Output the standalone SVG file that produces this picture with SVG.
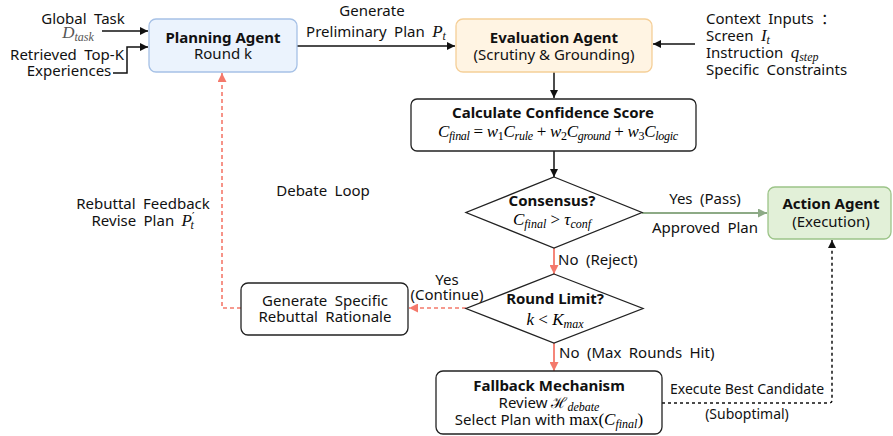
<svg xmlns="http://www.w3.org/2000/svg" width="893" height="436" viewBox="0 0 893 436">
  <defs>
    <style>
      .t { font-family: "Noto Sans", "Open Sans", sans-serif; font-size: 15px; fill: #111; }
      .ws { word-spacing: 3.5px; }
      .b { font-weight: bold; }
      .s14 { font-size: 14px; }
      .m { font-family: "Liberation Serif", "DejaVu Serif", serif; font-style: italic; font-size: 17px; }
      .mu { font-family: "Liberation Serif", "DejaVu Serif", serif; font-style: normal; font-size: 17px; }
      .ms { font-family: "Liberation Serif", "DejaVu Serif", serif; font-style: italic; font-size: 12px; }
      .msu { font-family: "Liberation Serif", "DejaVu Serif", serif; font-style: normal; font-size: 12px; }
      .box { fill: #ffffff; stroke: #222; stroke-width: 1.3; }
      .line { fill: none; stroke: #111; stroke-width: 1.5; }
      .red { fill: none; stroke: #f4796b; stroke-width: 1.8; }
      .reddash { fill: none; stroke: #f4796b; stroke-width: 1.6; stroke-dasharray: 4 3; }
      .dot { fill: none; stroke: #111; stroke-width: 1.5; stroke-dasharray: 3 3; }
      .green { fill: none; stroke: #8daa86; stroke-width: 1.8; }
    </style>
    <marker id="ah" viewBox="0 0 10 10" refX="10" refY="5" markerWidth="9" markerHeight="8" markerUnits="userSpaceOnUse" orient="auto">
      <path d="M0,0 L10,5 L0,10 z" fill="#111"/>
    </marker>
    <marker id="ahr" viewBox="0 0 10 10" refX="10" refY="5" markerWidth="9" markerHeight="9" markerUnits="userSpaceOnUse" orient="auto">
      <path d="M0,0 L10,5 L0,10 z" fill="#f4796b"/>
    </marker>
    <marker id="ahg" viewBox="0 0 10 10" refX="10" refY="5" markerWidth="9" markerHeight="9" markerUnits="userSpaceOnUse" orient="auto">
      <path d="M0,0 L10,5 L0,10 z" fill="#8daa86"/>
    </marker>
  </defs>

  <!-- connectors -->
  <g id="connectors">
    <path class="line" d="M102,31 H148" marker-end="url(#ah)"/>
    <path class="line" d="M113,73 H127 V47 H148" marker-end="url(#ah)"/>
    <path class="line" d="M297,46 H455" marker-end="url(#ah)"/>
    <path class="line" d="M695,44 H653" marker-end="url(#ah)"/>
    <path class="line" d="M554,72 V98" marker-end="url(#ah)"/>
    <path class="line" d="M554,151 V177" marker-end="url(#ah)"/>
    <path class="green" d="M642,213 H767" marker-end="url(#ahg)"/>
    <path class="red" d="M554,248 V274" marker-end="url(#ahr)"/>
    <path class="red" d="M554,343 V371" marker-end="url(#ahr)"/>
    <path class="reddash" d="M466,308 H409" marker-end="url(#ahr)"/>
    <path class="reddash" d="M241,308 H222 V73" marker-end="url(#ahr)"/>
    <path class="dot" d="M662,403 H829 Q832,403 832,400 V240" marker-end="url(#ah)"/>
  </g>

  <!-- connector labels -->
  <g id="labels">
    <text class="t ws" x="83" y="24" text-anchor="middle">Global Task</text>
    <text x="78" y="38" text-anchor="middle" fill="#555"><tspan class="m" fill="#555">D</tspan><tspan class="ms" fill="#555" dy="3">task</tspan></text>
    <text class="t ws" x="67" y="60" text-anchor="middle">Retrieved Top-K</text>
    <text class="t ws" x="69" y="76" text-anchor="middle">Experiences</text>
    <text class="t ws" x="372" y="16" text-anchor="middle">Generate</text>
    <text class="t ws" x="376" y="37" text-anchor="middle">Preliminary Plan <tspan class="m">P</tspan><tspan class="ms" dy="3">t</tspan></text>
    <text class="t ws" x="706" y="24">Context Inputs <tspan font-family="'Noto Sans CJK SC', sans-serif">：</tspan></text>
    <text class="t ws" x="706" y="41">Screen <tspan class="m">I</tspan><tspan class="ms" dy="3">t</tspan></text>
    <text class="t ws" x="706" y="58">Instruction <tspan class="m">q</tspan><tspan class="ms" dy="3">step</tspan></text>
    <text class="t ws" x="706" y="75">Specific Constraints</text>
    <text class="t ws" x="705" y="204" text-anchor="middle">Yes (Pass)</text>
    <text class="t ws" x="705" y="233" text-anchor="middle">Approved Plan</text>
    <text class="t ws" x="558" y="265">No (Reject)</text>
    <text class="t ws" x="447" y="285" text-anchor="middle">Yes</text>
    <text class="t ws" x="447" y="300" text-anchor="middle">(Continue)</text>
    <text class="t ws" x="559" y="358">No (Max Rounds Hit)</text>
    <text class="t ws" x="143" y="209" text-anchor="middle">Rebuttal Feedback</text>
    <text class="t ws" x="143" y="226" text-anchor="middle">Revise Plan <tspan class="m">P</tspan><tspan font-family="'DejaVu Serif', serif" font-size="11px" dy="-6">′</tspan><tspan class="ms" dx="-4" dy="9">t</tspan></text>
    <text class="t ws" x="323" y="196" text-anchor="middle">Debate Loop</text>
    <text class="t s14" x="670" y="394">Execute Best Candidate</text>
    <text class="t s14" x="747" y="419" text-anchor="middle">(Suboptimal)</text>
  </g>

  <!-- nodes -->
  <g id="planning-agent">
    <rect x="149" y="19" width="148" height="53" rx="7" fill="#ebf3fd" stroke="#a6c1e6" stroke-width="1.3"/>
    <text class="t b" x="223" y="43" text-anchor="middle">Planning Agent</text>
    <text class="t" x="223" y="59" text-anchor="middle">Round k</text>
  </g>

  <g id="evaluation-agent">
    <rect x="456" y="19" width="196" height="53" rx="7" fill="#fff4e3" stroke="#f5cf98" stroke-width="1.3"/>
    <text class="t b" x="554" y="43" text-anchor="middle">Evaluation Agent</text>
    <text class="t" x="554" y="60" text-anchor="middle">(Scrutiny &amp; Grounding)</text>
  </g>

  <g id="confidence-score">
    <rect class="box" x="411" y="99" width="285" height="52" rx="6"/>
    <text class="t b" x="553" y="118" text-anchor="middle">Calculate Confidence Score</text>
    <text x="558" y="137" text-anchor="middle" textLength="240" lengthAdjust="spacing"><tspan class="m">C</tspan><tspan class="ms" dy="3">final</tspan><tspan class="mu" dy="-3"> = </tspan><tspan class="m">w</tspan><tspan class="msu" dy="3">1</tspan><tspan class="m" dy="-3">C</tspan><tspan class="ms" dy="3">rule</tspan><tspan class="mu" dy="-3"> + </tspan><tspan class="m">w</tspan><tspan class="msu" dy="3">2</tspan><tspan class="m" dy="-3">C</tspan><tspan class="ms" dy="3">ground</tspan><tspan class="mu" dy="-3"> + </tspan><tspan class="m">w</tspan><tspan class="msu" dy="3">3</tspan><tspan class="m" dy="-3">C</tspan><tspan class="ms" dy="3">logic</tspan></text>
  </g>

  <g id="consensus">
    <path class="box" d="M554,177 L642,212.5 L554,248 L466,212.5 Z"/>
    <text class="t b" x="552" y="206" text-anchor="middle">Consensus?</text>
    <text x="552" y="225" text-anchor="middle"><tspan class="m">C</tspan><tspan class="ms" dy="3">final</tspan><tspan class="mu" dy="-3"> &gt; </tspan><tspan class="m">τ</tspan><tspan class="ms" dy="3">conf</tspan></text>
  </g>

  <g id="action-agent">
    <rect x="768" y="187" width="123" height="52" rx="7" fill="#e2f0d8" stroke="#9cc488" stroke-width="1.3"/>
    <text class="t b" x="831" y="209" text-anchor="middle">Action Agent</text>
    <text class="t" x="831" y="227" text-anchor="middle">(Execution)</text>
  </g>

  <g id="round-limit">
    <path class="box" d="M554,274 L643,308.5 L554,343 L466,308.5 Z"/>
    <text class="t b" x="555" y="304" text-anchor="middle">Round Limit?</text>
    <text x="555" y="325" text-anchor="middle"><tspan class="m">k</tspan><tspan class="mu"> &lt; </tspan><tspan class="m">K</tspan><tspan class="ms" dy="3">max</tspan></text>
  </g>

  <g id="rebuttal-rationale">
    <rect class="box" x="241" y="283" width="167" height="52" rx="7"/>
    <text class="t ws" x="325" y="306" text-anchor="middle">Generate Specific</text>
    <text class="t ws" x="325" y="322" text-anchor="middle">Rebuttal Rationale</text>
  </g>

  <g id="fallback">
    <rect class="box" x="436" y="371" width="226" height="63" rx="7"/>
    <text class="t b" x="549" y="391" text-anchor="middle">Fallback Mechanism</text>
    <text x="549" y="408" text-anchor="middle"><tspan class="t">Review </tspan><tspan font-family="'DejaVu Serif', serif" font-size="15px">ℋ</tspan><tspan class="ms" dy="3">debate</tspan></text>
    <text x="549" y="425" text-anchor="middle"><tspan class="t">Select Plan with </tspan><tspan class="mu">max(</tspan><tspan class="m">C</tspan><tspan class="ms" dy="3">final</tspan><tspan class="mu" dy="-3">)</tspan></text>
  </g>
</svg>
